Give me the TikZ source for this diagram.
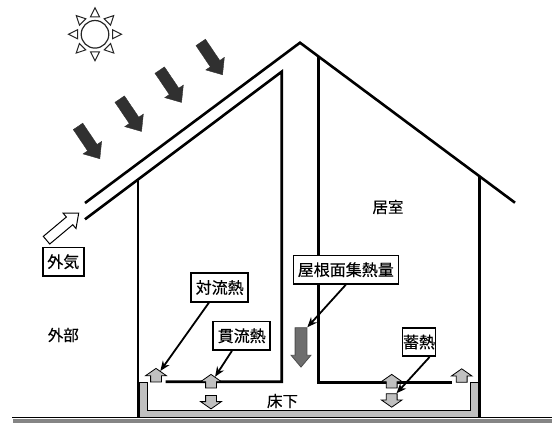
\documentclass[tikz,border=0pt]{standalone}
\usepackage{fontspec}
\usepackage{tikz}
\usetikzlibrary{shapes.arrows}
\usetikzlibrary{arrows.meta}
\newfontfamily\jpfont[FakeBold=0.3]{Noto Sans CJK JP}
\definecolor{solargray}{HTML}{303030}
\definecolor{heatgray}{HTML}{6E6E6E}
\definecolor{floorgray}{HTML}{C0C0C0}
\definecolor{groundgray}{HTML}{858585}
\newcommand{\sunray}[1]{
\begin{scope}[shift={(95,34.3)},rotate=#1]
\draw[line width=1pt,draw=black!85] (17.5,-4.5) -- (26.5,0) -- (17.5,4.5) -- cycle;
\end{scope}
}
\tikzset{
wall/.style={line width=2.6pt},
tag/.style={draw,line width=1.6pt,fill=white,inner xsep=4.5pt,inner ysep=0pt,minimum height=28.5pt,font=\jpfont\fontsize{16}{16}\selectfont},
roomtext/.style={font=\jpfont\fontsize{15.5}{15.5}\selectfont},
lead/.style={-{Stealth[length=10pt,width=8pt]},line width=1.8pt},
sunbeam/.style={single arrow,fill=solargray,draw=solargray,minimum height=39pt,inner xsep=0pt,inner ysep=5.5pt,single arrow head extend=5.5pt,single arrow tip angle=80,anchor=tip,rotate=-56},
flow/.style={single arrow,fill=floorgray,draw,line width=0.8pt,minimum height=13.5pt,inner xsep=0pt,inner ysep=5pt,single arrow head extend=5pt,single arrow tip angle=110,anchor=tail},
flowup/.style={flow,rotate=90},
flowdown/.style={flow,rotate=-90}
}
\begin{document}
\begin{tikzpicture}[x=1pt,y=-1pt]
\useasboundingbox (0,0) rectangle (552,423);
% sun
\draw[line width=1.2pt,draw=black!85] (95,34.3) circle [radius=13.8];
\foreach \a in {0,45,...,315} {\sunray{\a}}
% solar radiation
\node[sunbeam] (beam1) at (100,159) {};
\node[sunbeam] (beam2) at (141.7,131.7) {};
\node[sunbeam] (beam3) at (181.7,102.7) {};
\node[sunbeam] (beam4) at (222.7,75) {};
% ground and crawl space
\fill[groundgray] (13,419) rectangle (552,423);
\draw[line width=1.5pt] (12,417.7) -- (552,417.7);
\filldraw[fill=floorgray,line width=0.8pt] (139.5,382.5) -- (147.3,382.5) -- (147.3,410) -- (470,410) -- (470,382.5) -- (478,382.5) -- (478,417) -- (139.5,417) -- cycle;
% roof and walls
\draw[wall,line join=miter] (85,203) -- (300,42.7) -- (515,202.7);
\draw[wall,line join=miter] (85,219.3) -- (281.7,71.7) -- (281.7,381.7) -- (165.7,381.7);
\draw[wall] (318.3,56) -- (318.3,382.5) -- (451.7,382.5);
\draw[wall] (138,179.3) -- (138,418);
\draw[wall] (479.3,176.2) -- (479.3,418);
% outside air
\node[single arrow,draw,fill=white,line width=1pt,minimum height=42pt,inner xsep=0pt,inner ysep=4.5pt,single arrow head extend=5pt,single arrow tip angle=80,anchor=tip,rotate=40] (air) at (79.3,212.7) {};
\node[tag] (gaiki) at (63.3,261.7) {外気};
\node[roomtext] (gaibu) at (63.3,335) {外部};
\node[roomtext] (kyoshitsu) at (388,207) {居室};
\node[roomtext] (yukashita) at (282.5,401) {床下};
% heat flows
\node[heatgray!70!black,single arrow,fill=heatgray,draw,line width=0.8pt,minimum height=39.4pt,inner xsep=0pt,inner ysep=5.5pt,single arrow head extend=4pt,single arrow tip angle=80,anchor=tip,rotate=-90] (roofheat) at (301,367.7) {};
\node[flowup] (upA) at (156,382.3) {};
\node[flowup] (upB) at (211,388.3) {};
\node[flowdown] (downC) at (211,395) {};
\node[flowup] (upD) at (391.7,388.3) {};
\node[flowdown] (downE) at (391.7,393.3) {};
\node[flowup] (upF) at (461.7,382.7) {};
\node[tag] (tairyu) at (219.7,287.5) {対流熱};
\node[tag] (kanryu) at (241.7,335.8) {貫流熱};
\node[tag] (shunetsu) at (345.8,269.7) {屋根面集熱量};
\node[tag,inner xsep=0.5pt] (chikunetsu) at (419,342) {蓄熱};
\draw[lead] (tairyu) -- (upA);
\draw[lead] (kanryu) -- (upB);
\draw[lead] (shunetsu.south) -- (roofheat.after tail);
\draw[lead] (chikunetsu.-55) -- (downE);
\end{tikzpicture}
\end{document}
